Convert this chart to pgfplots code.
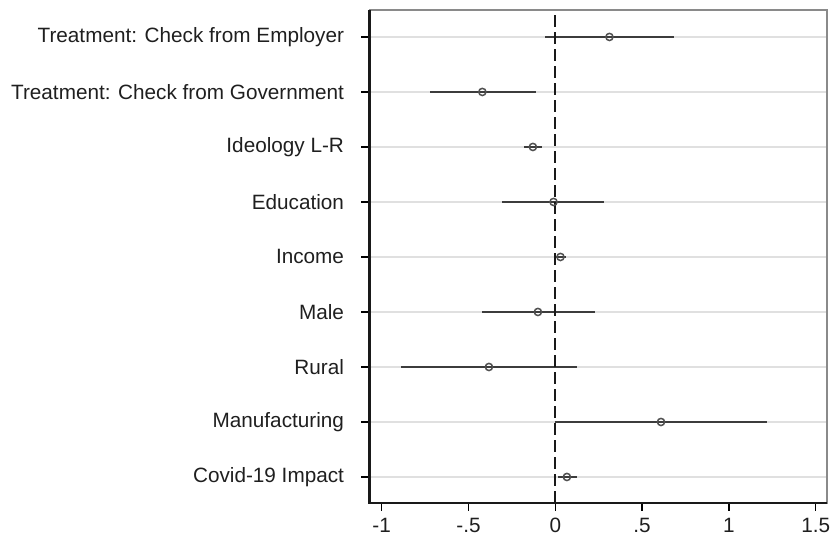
\documentclass[border=0pt]{standalone}
\usepackage{pgfplots}
\pgfplotsset{compat=1.18}
\usepackage{pgfplotstable}
\usepackage{fontspec}
\setmainfont{Liberation Sans}

% Coefficient estimates with 95% confidence bounds
\pgfplotstableread{
pos est    lo     hi
9   0.312 -0.061  0.686
8  -0.420 -0.722 -0.113
7  -0.129 -0.182 -0.075
6  -0.010 -0.305  0.283
5   0.030  0.002  0.063
4  -0.100 -0.424  0.226
3  -0.382 -0.889  0.126
2   0.609  0.000  1.218
1   0.067  0.015  0.124
}\coefs

\definecolor{cigray}{HTML}{3C3C3C}
\definecolor{ptgray}{HTML}{505050}
\definecolor{gridgray}{HTML}{E0E0E0}
\definecolor{framegray}{HTML}{8A8A8A}

\begin{document}
\begin{tikzpicture}
\begin{axis}[
  name=ax,
  scale only axis,
  width=457.5bp, height=493bp,
  xmin=-1.07, xmax=1.565,
  ymin=0.527, ymax=9.49,
  xtick={-1,-0.5,0,0.5,1,1.5},
  xticklabels={-1,-.5,0,.5,1,1.5},
  ytick={1,...,9},
  yticklabels={Covid-19 Impact,Manufacturing,Rural,Male,Income,Education,Ideology L-R,Treatment: Check from Government,Treatment: Check from Employer},
  xtick pos=bottom, ytick pos=left,
  tick align=outside,
  major tick length=8bp,
  tick style={black, line width=1.5bp},
  ymajorgrids,
  grid style={gridgray, line width=1.4bp},
  axis line style={framegray, line width=1.2bp},
  ticklabel style={font=\fontsize{20.8}{23}\selectfont, text=black!88},
  yticklabel style={xshift=-14bp},
  xticklabel style={yshift=-4bp},
  /pgf/number format/assume math mode=true,
  clip=false,
]
  % confidence intervals
  \addplot[cigray, mark=none, draw=none,
    error bars/.cd, x dir=both, x explicit, error mark=none,
    error bar style={cigray, line width=2.3bp}]
    table[x=est, y=pos, x error plus expr=\thisrow{hi}-\thisrow{est},
          x error minus expr=\thisrow{est}-\thisrow{lo}] {\coefs};
  % reference line at zero
  \addplot[black!90, line width=1.8bp, dash pattern=on 12bp off 5bp, mark=none]
    coordinates {(0,0.527) (0,9.49)};
  % point estimates
  \addplot[only marks, mark=o, mark size=3.6bp, ptgray,
    mark options={line width=1.5bp, fill=none}]
    table[x=est, y=pos] {\coefs};
  % heavier left and bottom axis lines
  \draw[black!90, line width=2.4bp] (rel axis cs:0,1) -- (rel axis cs:0,0) -- (rel axis cs:1,0);
\end{axis}
\pgfresetboundingbox
\path ([shift={(-369.5bp,-36bp)}]ax.south west) rectangle ([shift={(5bp,10bp)}]ax.north east);
\end{tikzpicture}
\end{document}
